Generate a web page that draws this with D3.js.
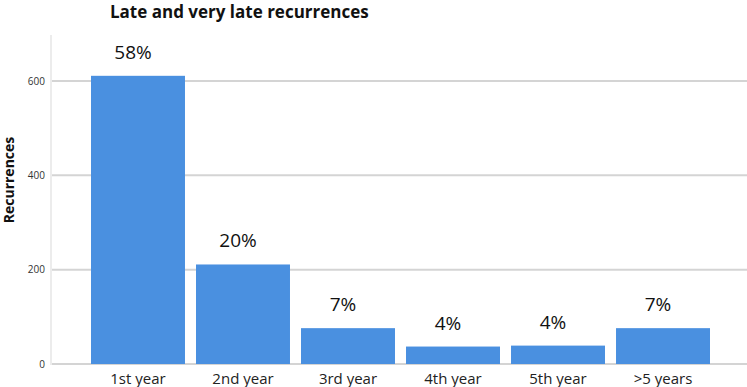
<!DOCTYPE html>
<html><head><meta charset="utf-8">
<script src="https://cdn.jsdelivr.net/npm/d3@7"></script>
<style>body{margin:0;background:#fff}svg{display:block}text{font-family:"Open Sans",sans-serif}</style>
</head><body>
<svg id="c" width="747" height="387"></svg>
<script>
const categories = ["1st year","2nd year","3rd year","4th year","5th year",">5 years"];
const recurrences = [611, 211, 76, 37, 39, 76];
const pctLabels = ["58%","20%","7%","4%","4%","7%"];
const yTicks = [0, 200, 400, 600];
const title = "Late and very late recurrences";
const yTitle = "Recurrences";

const svg = d3.select("#c");
const y = d3.scaleLinear().domain([0, 600]).range([364, 81]);
const x = d3.scaleBand().domain(categories).range([91, 710]).paddingInner(0.105).paddingOuter(0);

// axis line
svg.append("line").attr("x1",51).attr("x2",51).attr("y1",35).attr("y2",365)
  .attr("stroke","#e6e6e6").attr("stroke-width",1.5);

// gridlines
svg.append("g").selectAll("line").data(yTicks).join("line")
  .attr("x1",52).attr("x2",747).attr("y1",d=>y(d)).attr("y2",d=>y(d))
  .attr("stroke","#d4d4d4").attr("stroke-width",2);

// tick labels
svg.append("g").selectAll("text").data(yTicks).join("text")
  .attr("x",45).attr("y",d=>y(d)).attr("dy","0.35em").attr("text-anchor","end")
  .attr("font-size",10).attr("fill","#333").text(d=>d);

// bars
svg.append("g").selectAll("rect").data(categories).join("rect")
  .attr("x",d=>x(d)).attr("width",x.bandwidth())
  .attr("y",(d,i)=>y(recurrences[i])).attr("height",(d,i)=>y(0)-y(recurrences[i]))
  .attr("fill","#4a90e0");

// pct labels
svg.append("g").selectAll("text").data(categories).join("text")
  .attr("x",d=>x(d)+x.bandwidth()/2-5).attr("y",(d,i)=>y(recurrences[i])-17)
  .attr("text-anchor","middle").attr("font-size",19).attr("fill","#111")
  .text((d,i)=>pctLabels[i]);

// category labels
svg.append("g").selectAll("text").data(categories).join("text")
  .attr("x",d=>x(d)+x.bandwidth()/2).attr("y",384)
  .attr("text-anchor","middle").attr("font-size",15).attr("fill","#222")
  .text(d=>d);

// title
svg.append("text").attr("x",110).attr("y",18).attr("font-size",17).attr("font-weight","bold")
  .attr("fill","#111").text(title);

// y title
svg.append("text").attr("transform","translate(14,180) rotate(-90)").attr("text-anchor","middle")
  .attr("font-size",14).attr("font-weight","bold").attr("fill","#111").text(yTitle);
</script>
</body></html>
